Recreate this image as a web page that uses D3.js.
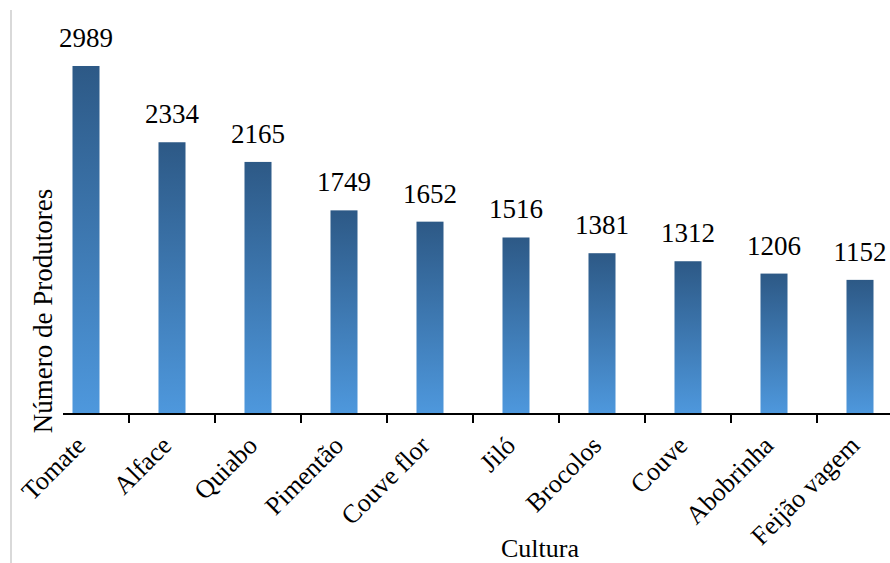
<!DOCTYPE html>
<html><head><meta charset="utf-8">
<script src="https://cdn.jsdelivr.net/npm/d3@7"></script>
<style>html,body{margin:0;padding:0;background:#fff;}svg{display:block;}
text{font-family:"Liberation Serif","Times New Roman",Times,"DejaVu Serif",serif;}</style>
</head><body>
<script>
const categories = ["Tomate","Alface","Quiabo","Pimentão","Couve flor","Jiló","Brocolos","Couve","Abobrinha","Feijão vagem"];
const values = [2989,2334,2165,1749,1652,1516,1381,1312,1206,1152];
const xTitle = "Cultura";
const yTitle = "Número de Produtores";

const W = 890, H = 563;
const svg = d3.select("body").append("svg").attr("width", W).attr("height", H);

const defs = svg.append("defs");
const grad = defs.append("linearGradient").attr("id","bg").attr("x1",0).attr("y1",0).attr("x2",0).attr("y2",1);
grad.append("stop").attr("offset","0%").attr("stop-color","#2d5986");
grad.append("stop").attr("offset","100%").attr("stop-color","#4e98dd");

// frame line on left
svg.append("line").attr("x1",11).attr("x2",11).attr("y1",10).attr("y2",H).attr("stroke","#d9d9d9").attr("stroke-width",2);

const x = d3.scaleBand().domain(categories).range([43, 903]).paddingInner(0.686).paddingOuter(0.343);
const baseY = 414;
const y = d3.scaleLinear().domain([0, 3000]).range([baseY, baseY - 3000*0.11643]);

svg.selectAll("rect.bar").data(values).enter().append("rect")
  .attr("class","bar")
  .attr("x",(d,i)=>x(categories[i]))
  .attr("width",x.bandwidth())
  .attr("y",d=>y(d))
  .attr("height",d=>baseY-y(d))
  .attr("fill","url(#bg)");

svg.selectAll("text.val").data(values).enter().append("text")
  .attr("class","val")
  .attr("x",(d,i)=>x(categories[i])+x.bandwidth()/2)
  .attr("y",d=>y(d)-19)
  .attr("text-anchor","middle")
  .attr("font-size",27).attr("fill","#000")
  .text(d=>d);

// x axis line
svg.append("line").attr("x1",63).attr("x2",W).attr("y1",baseY).attr("y2",baseY).attr("stroke","#000").attr("stroke-width",2);
// ticks between categories
const step = x.step();
const tickPos = categories.slice(1).map((c)=>x(c) - (step - x.bandwidth())/2);
svg.selectAll("line.tick").data(tickPos).enter().append("line")
  .attr("x1",d=>d).attr("x2",d=>d).attr("y1",baseY).attr("y2",baseY+9)
  .attr("stroke","#000").attr("stroke-width",2);

// category labels
svg.selectAll("text.cat").data(categories).enter().append("text")
  .attr("class","cat")
  .attr("transform",d=>`translate(${x(d)+x.bandwidth()/2+1},${baseY+33}) rotate(-45)`)
  .attr("text-anchor","end")
  .attr("font-size",26).attr("fill","#000")
  .text(d=>d);

svg.append("text").attr("x",540).attr("y",557).attr("text-anchor","middle")
  .attr("font-size",26).text(xTitle);
svg.append("text").attr("transform","translate(52,311) rotate(-90)").attr("text-anchor","middle")
  .attr("font-size",27).text(yTitle);
</script>
</body></html>
